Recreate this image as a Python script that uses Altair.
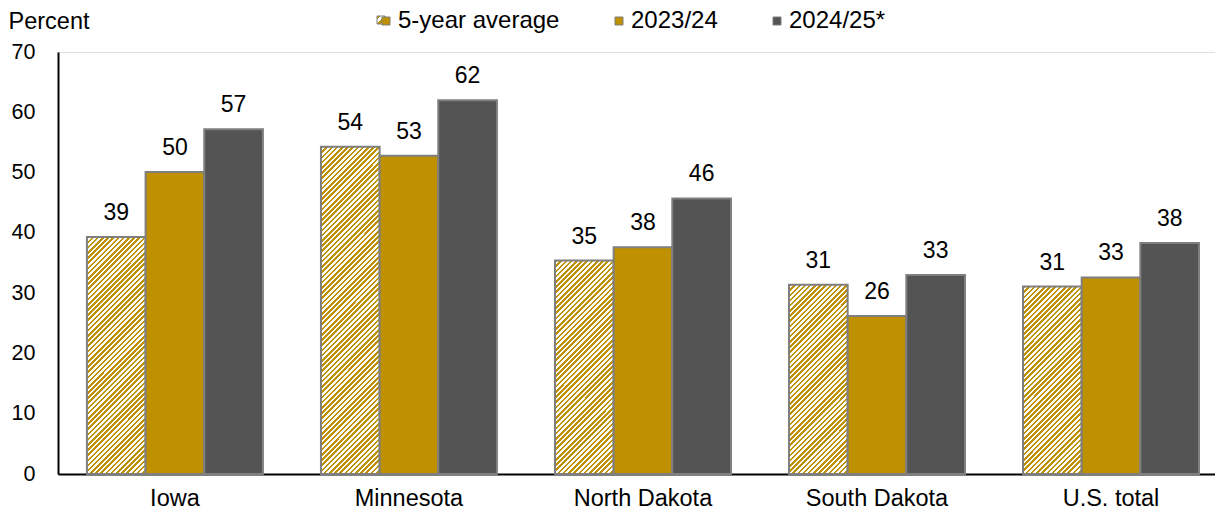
import altair as alt
import pandas as pd

states = ["Iowa", "Minnesota", "North Dakota", "South Dakota", "U.S. total"]
series = ["5-year average", "2023/24", "2024/25*"]
avg5 = [39.3, 54.3, 35.4, 31.4, 31.1]
y2324 = [50.1, 52.8, 37.6, 26.2, 32.6]
y2425 = [57.2, 62.0, 45.7, 33.0, 38.3]

GOLD = "#BF9000"
DARK = "#545454"
EDGE = "#7F7F7F"
FONT = "Liberation Sans"

W_TOTAL, H_TOTAL = 1157, 422
YMAX = 70
PX_PER_UNIT = H_TOTAL / YMAX
BAR_W = 58.7


def hatch(w, h, n):
    c = (w + h) / (w * w + h * h)
    stops = []
    for i in range(n):
        a, b, e = i / n, (i + 0.5) / n, (i + 1) / n
        stops += [
            {"offset": a, "color": GOLD},
            {"offset": b, "color": GOLD},
            {"offset": b, "color": "white"},
            {"offset": e, "color": "white"},
        ]
    return {"gradient": "linear", "x1": 0, "y1": 0, "x2": c * w, "y2": c * h, "stops": stops}


rows = []
for s, a, b, c in zip(states, avg5, y2324, y2425):
    rows.append({"state": s, "series": series[0], "value": a})
    rows.append({"state": s, "series": series[1], "value": b})
    rows.append({"state": s, "series": series[2], "value": c})
df = pd.DataFrame(rows)

conds = []
for s, a in zip(states, avg5):
    h = a * PX_PER_UNIT
    n = max(1, round((BAR_W + h) / 5.2))
    conds.append({
        "test": f"datum.state === '{s}' && datum.series === '{series[0]}'",
        "value": hatch(BAR_W, h, n),
    })

legend_grad = hatch(1, 1, 2)

x_enc = alt.X(
    "state:N", sort=states, title=None,
    scale=alt.Scale(paddingInner=0.248, paddingOuter=0.096, align=0.644),
    axis=alt.Axis(labelFont=FONT, labelFontSize=23.5, labelColor="black", labelPadding=12,
                  ticks=False, domainColor="black", domainWidth=2, labelAngle=0),
)
xoff = alt.XOffset("series:N", sort=series, scale=alt.Scale(paddingInner=0, paddingOuter=0))
y_enc = alt.Y(
    "value:Q",
    scale=alt.Scale(domain=[0, YMAX], nice=False),
    axis=alt.Axis(values=[0, 10, 20, 30, 40, 50, 60, 70], grid=False, ticks=False,
                  domainColor="black", domainWidth=2,
                  labelFont=FONT, labelFontSize=21.5, labelColor="black", labelPadding=23,
                  title="Percent", titleAngle=0, titleAlign="left", titleBaseline="alphabetic",
                  titleX=-50, titleY=-24, titleFont=FONT, titleFontSize=23.5,
                  titleFontWeight="normal", titleColor="black"),
)

bars = alt.Chart(df).mark_bar(stroke=EDGE, strokeWidth=2).encode(
    x=x_enc,
    xOffset=xoff,
    y=y_enc,
    fill=alt.Fill(
        "series:N", sort=series,
        scale=alt.Scale(domain=series, range=[GOLD, GOLD, DARK]),
        legend=alt.Legend(
            title=None, orient="none", direction="horizontal",
            legendX=316, legendY=-43,
            symbolType="square", symbolSize=64, symbolStrokeColor=EDGE, symbolStrokeWidth=1,
            labelFont=FONT, labelFontSize=24, labelColor="black", labelOffset=0,
            labelLimit=400, columnPadding=47,
        ),
        condition=conds,
    ),
)

labels = alt.Chart(df).mark_text(
    font=FONT, fontSize=23, color="black", baseline="alphabetic", dy=-17
).encode(
    x=alt.X("state:N", sort=states),
    xOffset=alt.XOffset("series:N", sort=series),
    y="value:Q",
    text=alt.Text("value:Q", format=".0f"),
)

legend_patch = alt.Chart(pd.DataFrame({"series": [series[0]]})).mark_rect(
    stroke=EDGE, strokeWidth=1
).encode(
    x=alt.value(319), x2=alt.value(327), y=alt.value(-36), y2=alt.value(-28),
    fill=alt.value(legend_grad),
)

chart = alt.layer(bars, labels, legend_patch).properties(
    width=W_TOTAL, height=H_TOTAL,
    autosize=alt.AutoSizeParams(type="none"),
    padding={"left": 58, "top": 52, "right": 0, "bottom": 38},
).configure_view(stroke=None).configure(background="white")

chart.save("out.html", embed_options={"renderer": "svg", "actions": False})
